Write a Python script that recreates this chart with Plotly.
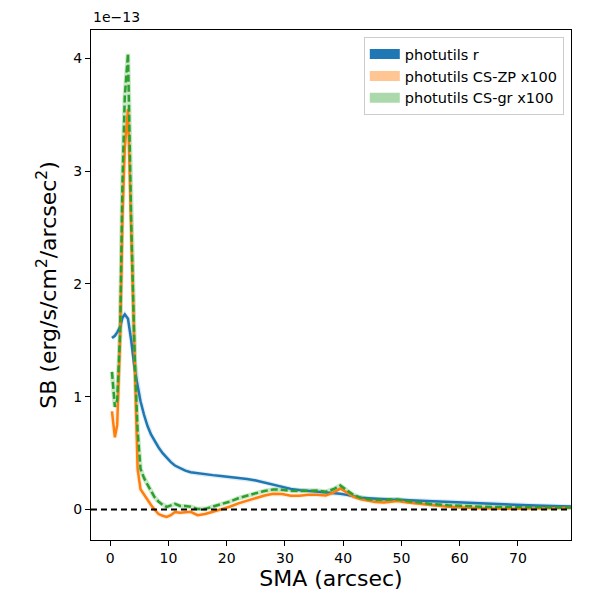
import plotly.graph_objects as go

# --------------------------------------------------
# data (surface brightness in units of 1e-13)
# --------------------------------------------------
sma = [0.3, 0.8, 1.2, 1.7, 2.1, 2.5, 3.05, 3.6, 4.2, 4.7, 5.2, 5.8, 6.4, 7.0,
       7.6, 8.3, 9.0, 9.7, 10.4, 11.1, 12.0, 12.9, 13.8, 15.0, 16.3, 17.6,
       19.0, 20.5, 22.0, 23.5, 25.0, 26.5, 28.0, 29.5, 31.0, 32.5, 34.0, 35.5,
       37.0, 38.3, 39.5, 40.6, 41.8, 43.0, 44.2, 45.5, 47.0, 48.2, 49.3, 51.0,
       52.7, 55.0, 58.0, 61.0, 64.0, 67.0, 70.0, 73.0, 76.0, 79.1]

sb_r = [1.52, 1.54, 1.57, 1.62, 1.70, 1.73, 1.69, 1.50, 1.24, 1.08, 0.96, 0.84,
        0.74, 0.665, 0.61, 0.55, 0.50, 0.46, 0.42, 0.39, 0.365, 0.345, 0.33,
        0.32, 0.312, 0.305, 0.298, 0.29, 0.28, 0.27, 0.258, 0.24, 0.22, 0.20,
        0.183, 0.172, 0.165, 0.16, 0.155, 0.148, 0.14, 0.13, 0.115, 0.105, 0.10,
        0.095, 0.09, 0.088, 0.087, 0.083, 0.08, 0.075, 0.068, 0.06, 0.052,
        0.045, 0.04, 0.035, 0.031, 0.028]

sb_zp = [0.87, 0.64, 0.75, 1.55, 2.60, 3.20, 3.55, 2.45, 1.20, 0.36, 0.18, 0.13,
         0.09, 0.04, 0.00, -0.04, -0.055, -0.066, -0.05, -0.022, -0.028, -0.025,
         -0.02, -0.05, -0.04, -0.02, 0.0, 0.025, 0.055, 0.08, 0.10, 0.125, 0.14,
         0.138, 0.123, 0.122, 0.13, 0.132, 0.125, 0.15, 0.186, 0.15, 0.112, 0.09,
         0.076, 0.066, 0.062, 0.068, 0.075, 0.062, 0.052, 0.04, 0.025, 0.015,
         0.01, 0.008, 0.008, 0.01, 0.012, 0.015]

sb_gr = [1.22, 0.91, 0.97, 1.57, 2.90, 3.66, 4.04, 2.55, 1.35, 0.70, 0.36, 0.28,
         0.22, 0.16, 0.11, 0.07, 0.04, 0.023, 0.035, 0.05, 0.032, 0.032, 0.025,
         0.004, 0.006, 0.025, 0.045, 0.07, 0.10, 0.125, 0.145, 0.165, 0.178,
         0.175, 0.165, 0.165, 0.168, 0.168, 0.158, 0.18, 0.213, 0.17, 0.127,
         0.105, 0.091, 0.085, 0.085, 0.09, 0.09, 0.075, 0.063, 0.05, 0.038,
         0.03, 0.025, 0.022, 0.022, 0.022, 0.02, 0.018]

labels = ["photutils r", "photutils CS-ZP x100", "photutils CS-gr x100"]

# --------------------------------------------------
# figure
# --------------------------------------------------
BLUE = "#1f77b4"
ORANGE = "#ff7f0e"
GREEN = "#2ca02c"

fig = go.Figure()

series = [
    (sb_r, BLUE, "solid", "rgba(31,119,180,1.0)", "rgba(31,119,180,0.15)"),
    (sb_zp, ORANGE, "solid", "rgba(255,127,14,0.45)", "rgba(255,127,14,0.15)"),
    (sb_gr, GREEN, "7px,3px", "rgba(44,160,44,0.4)", "rgba(44,160,44,0.25)"),
]

# light bands under the lines
for vals, col, dash, patch, band in series:
    fig.add_trace(go.Scatter(
        x=sma, y=vals, mode="lines",
        line=dict(color=band, width=4.5),
        showlegend=False, hoverinfo="skip"
    ))

for vals, col, dash, patch, band in series:
    fig.add_trace(go.Scatter(
        x=sma, y=vals, mode="lines",
        line=dict(color=col, width=2.5, dash=dash),
        showlegend=False
    ))

# legend swatches (patches)
for (vals, col, dash, patch, band), name in zip(series, labels):
    fig.add_trace(go.Scatter(
        x=[None], y=[None], mode="lines",
        line=dict(color=patch, width=10),
        name=name, showlegend=True
    ))

# zero line
fig.add_hline(y=0, line=dict(color="black", width=2, dash="6px,4px"))

fig.add_annotation(
    text="1e\u221213", xref="paper", yref="paper", x=0, y=1.005,
    xanchor="left", yanchor="bottom", showarrow=False,
    font=dict(size=14, color="black")
)

axis_style = dict(
    showline=True, linecolor="black", linewidth=1.2, mirror=True,
    ticks="outside", ticklen=5, tickcolor="black", showgrid=False,
    zeroline=False, tickfont=dict(size=14, color="black")
)

fig.update_layout(
    width=600, height=600,
    margin=dict(l=83, r=37, t=22, b=68),
    plot_bgcolor="white", paper_bgcolor="white",
    font=dict(family="DejaVu Sans", color="black"),
    xaxis=dict(axis_style, range=[-3.3, 79.1], tickvals=[0, 10, 20, 30, 40, 50, 60, 70],
               title=dict(text="SMA (arcsec)", font=dict(size=22), standoff=4)),
    yaxis=dict(axis_style, range=[-0.27, 4.25], tickvals=[0, 1, 2, 3, 4],
               title=dict(text="SB (erg/s/cm<sup>2</sup>/arcsec<sup>2</sup>)",
                          font=dict(size=22), standoff=10)),
    legend=dict(x=0.985, y=0.986, xanchor="right", yanchor="top",
                bgcolor="white", bordercolor="#cccccc", borderwidth=1,
                font=dict(size=14.5), tracegroupgap=0, itemwidth=30),
)

fig.write_html("out.html")
